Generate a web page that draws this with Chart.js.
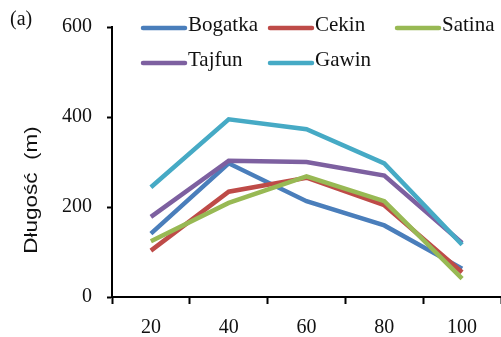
<!DOCTYPE html>
<html lang="pl">
<head>
  <meta charset="UTF-8" />
  <title>Długość</title>
  <script src="https://cdn.jsdelivr.net/npm/chart.js"></script>
  <style>
    body {
      margin: 0;
      background: #fff;
    }
    #wrap {
      width: 501px;
      height: 337px;
    }
  </style>
</head>
<body>

  <div id="wrap">
    <canvas id="chart" width="501" height="337"></canvas>
  </div>

  <script>
    const categories = ["20", "40", "60", "80", "100"];
    const seriesNames = ["Bogatka", "Cekin", "Satina", "Tajfun", "Gawin"];
    const bogatka = [141, 297, 213, 159, 63];
    const cekin = [103, 234, 265, 204, 55];
    const satina = [124, 209, 268, 213, 41];
    const tajfun = [178, 303, 300, 270, 120];
    const gawin = [244, 395, 373, 297, 116];
    const yTicks = [0, 200, 400, 600];
    const colors = ["#4a7ebb", "#be4b48", "#98b954", "#7d60a0", "#46aac5"];

    const values = [bogatka, cekin, satina, tajfun, gawin];
    const serif = '"Liberation Serif", "Times New Roman", serif';

    // legend (3 columns, 2 rows), panel letter and stretched axis title
    const extras = {
      id: "extras",
      afterDraw(chart) {
        const ctx = chart.ctx;
        ctx.save();
        ctx.fillStyle = "#111";
        ctx.font = "20px " + serif;
        ctx.textBaseline = "alphabetic";
        ctx.fillText("(a)", 10, 25);

        const cols = [143, 270, 397];
        const rows = [28, 63];
        chart.data.datasets.forEach((ds, i) => {
          const x = cols[i % 3];
          const y = rows[Math.floor(i / 3)];
          ctx.strokeStyle = ds.borderColor;
          ctx.lineWidth = 4.5;
          ctx.lineCap = "round";
          ctx.beginPath();
          ctx.moveTo(x, y);
          ctx.lineTo(x + 42, y);
          ctx.stroke();
          ctx.fillStyle = "#111";
          ctx.font = "21px " + serif;
          ctx.fillText(ds.label, x + 45, y + 3);
        });

        ctx.translate(37, 190);
        ctx.rotate(-Math.PI / 2);
        ctx.scale(1.25, 1);
        ctx.font = '18px "Liberation Sans", Arial, sans-serif';
        ctx.textAlign = "center";
        ctx.fillStyle = "#111";
        ctx.fillText("Długość  (m)", 0, 0);
        ctx.restore();
      }
    };

    new Chart(document.getElementById("chart"), {
      type: "line",
      data: {
        labels: categories,
        datasets: seriesNames.map((name, i) => ({
          label: name,
          data: values[i],
          borderColor: colors[i],
          backgroundColor: colors[i],
          borderWidth: 4.5,
          pointRadius: 0,
          tension: 0,
          fill: false,
          order: seriesNames.length - i
        }))
      },
      options: {
        responsive: false,
        animation: false,
        layout: {
          padding: { top: 27, left: 0, right: 0, bottom: 0 }
        },
        plugins: {
          legend: { display: false },
          tooltip: { enabled: false }
        },
        scales: {
          x: {
            offset: true,
            grid: {
              offset: true,
              drawOnChartArea: false,
              drawTicks: true,
              tickLength: 7,
              tickWidth: 2,
              color: "#000"
            },
            border: { display: true, color: "#000", width: 2 },
            ticks: {
              color: "#111",
              font: { family: serif, size: 20 },
              padding: 12,
              maxRotation: 0
            },
            afterFit(scale) { scale.height = 40; }
          },
          y: {
            min: 0,
            max: 600,
            afterBuildTicks(scale) {
              scale.ticks = yTicks.map(v => ({ value: v }));
            },
            grid: {
              drawOnChartArea: false,
              drawTicks: true,
              tickLength: 5,
              tickWidth: 2,
              color: "#000"
            },
            border: { display: true, color: "#000", width: 2 },
            ticks: {
              color: "#111",
              font: { family: serif, size: 20 },
              padding: 15
            },
            afterFit(scale) { scale.width = 112; }
          }
        }
      },
      plugins: [extras]
    });
  </script>

</body>
</html>
